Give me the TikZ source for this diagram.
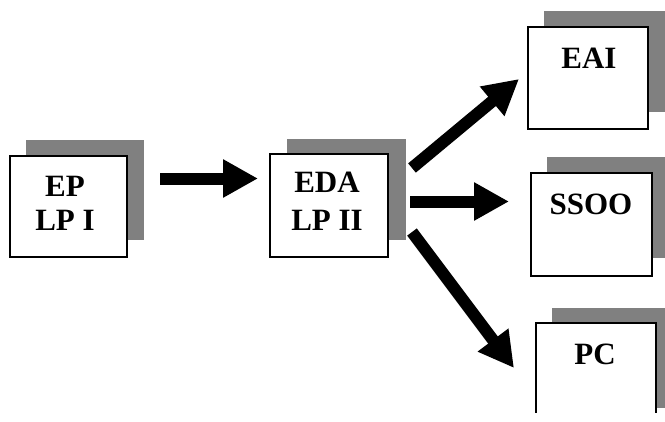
\documentclass[tikz,border=0pt]{standalone}
\usepackage{fontspec}
\setmainfont{Liberation Serif}
\usetikzlibrary{arrows.meta}
\definecolor{shadowgray}{HTML}{808080}
\begin{document}
\begin{tikzpicture}[x=1pt,y=-1pt,
  boxnode/.style={draw=black,line width=1.5pt,fill=white,rectangle,inner sep=0pt,outer sep=0pt,minimum width=#1},
  lbl/.style={font=\fontsize{31}{36}\selectfont\bfseries,inner sep=0pt,anchor=base},
  blockarrow/.style={line width=12pt,-{Triangle[length=35pt,width=36pt]}}]
\useasboundingbox[fill=white] (0,0) rectangle (665,421);
\begin{scope}
\clip (0,0) rectangle (665,412);
% shadows
\fill[shadowgray] (26,140) rectangle (144,240);
\fill[shadowgray] (287,139) rectangle (406,240);
\fill[shadowgray] (544,11) rectangle (665,112);
\fill[shadowgray] (547,157) rectangle (665,258);
\fill[shadowgray] (552,308) rectangle (665,408);
% boxes
\node[boxnode=117pt,minimum height=101pt] (ep) at (68.5,206.5) {};
\node[boxnode=118pt,minimum height=103pt] (eda) at (329,205.5) {};
\node[boxnode=120pt,minimum height=102pt] (eai) at (588,78) {};
\node[boxnode=121pt,minimum height=103pt] (ssoo) at (591.5,224.5) {};
\node[boxnode=120pt,minimum height=101pt] (pc) at (596,373.5) {};
\end{scope}
% labels
\node[lbl] (ep1) at (65,196) {EP};
\node[lbl] (ep2) at (65,230) {LP I};
\node[lbl] (eda1) at (327,192) {EDA};
\node[lbl] (eda2) at (327,230) {LP II};
\node[lbl] (eai1) at (589,68) {EAI};
\node[lbl] (ssoo1) at (591,214) {SSOO};
\node[lbl] (pc1) at (595,364) {PC};
% arrows
\coordinate (a1s) at (160,178.5);
\coordinate (a1e) at (258,178.5);
\coordinate (a2s) at (412,168);
\coordinate (a2e) at (519,79);
\coordinate (a3s) at (410,201.5);
\coordinate (a3e) at (509,201.5);
\coordinate (a4s) at (412,232);
\coordinate (a4e) at (514,368);
\draw[blockarrow] (a1s) -- (a1e);
\draw[blockarrow] (a2s) -- (a2e);
\draw[blockarrow] (a3s) -- (a3e);
\draw[blockarrow] (a4s) -- (a4e);
\end{tikzpicture}
\end{document}
